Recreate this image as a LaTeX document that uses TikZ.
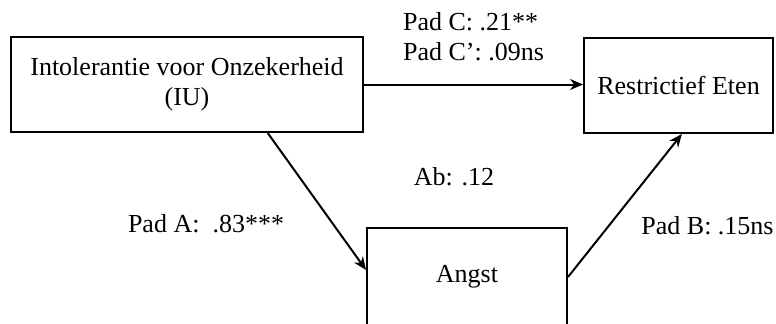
\documentclass[tikz,border=0pt]{standalone}
\usepackage{fontspec}
\setmainfont{Liberation Serif}
\usetikzlibrary{arrows.meta}

\begin{document}
\begin{tikzpicture}[x=0.5pt, y=-0.5pt,
    font=\fontsize{13}{15}\selectfont,
    box/.style={draw, line width=1pt, inner sep=0pt, align=center},
    pad/.style={-{Stealth[length=6.5pt, width=5.5pt]}, line width=1pt}]
    \clip (0, 0) rectangle (776, 323);

    \node[box, minimum width=176pt, minimum height=47.5pt] (IU) at (187, 84.5) {Intolerantie voor Onzekerheid\\(IU)};
    \node[box, minimum width=94.5pt, minimum height=47.5pt] (Restr) at (678.5, 85.5) {Restrictief Eten};
    \node[box, minimum width=100pt, minimum height=49pt] (Angst) at (467, 277) {Angst};

    % Pad C
    \draw[pad] (IU.east) -- (IU.east -| Restr.west);
    \node[anchor=west, align=left] (padC) at (396, 37) {Pad C: .21**\\Pad C': .09ns};

    % Pad A
    \draw[pad] (IU.-31.3) -- (Angst.176);
    \node (padA) at (206, 224) {Pad A:\ \ .83***};

    % Pad B
    \draw[pad] (Angst.east) -- (Restr.-86);
    \node[anchor=east, inner sep=1pt] (padB) at (776, 226) {Pad B: .15ns};

    % Ab
    \node (ab) at (454, 177) {Ab: .12};
\end{tikzpicture}
\end{document}
